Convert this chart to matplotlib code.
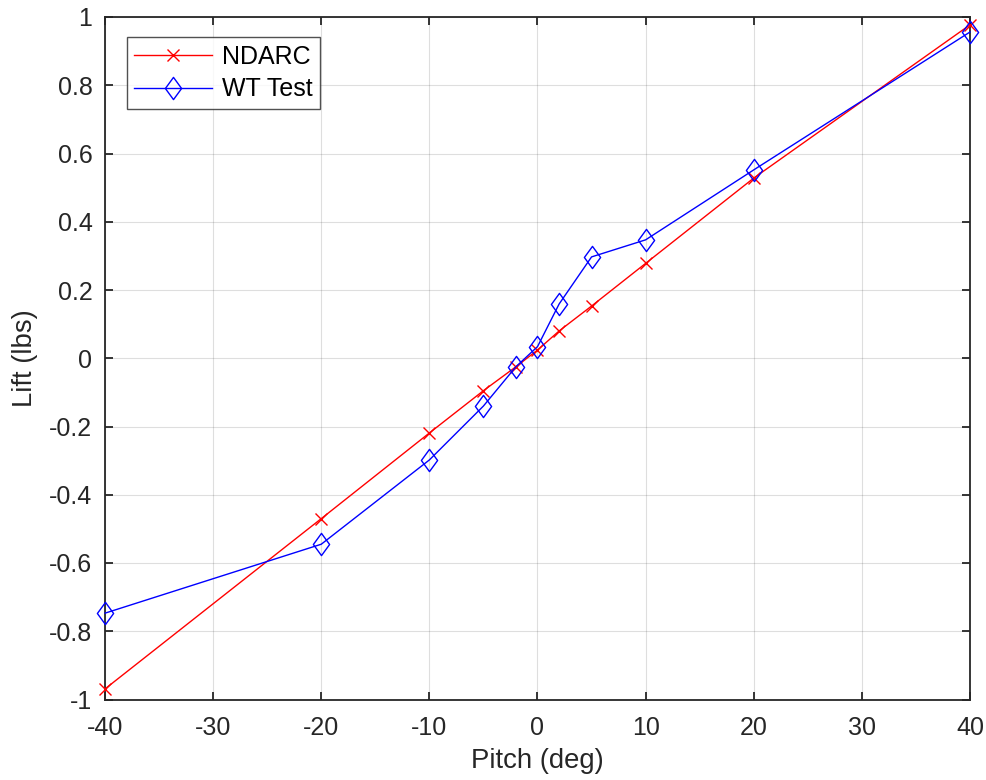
import matplotlib
matplotlib.use("Agg")
import matplotlib.pyplot as plt
from matplotlib.path import Path

pitch = [-40, -20, -10, -5, -2, 0, 2, 5, 10, 20, 40]
ndarc = [-0.969, -0.470, -0.219, -0.095, -0.025, 0.024, 0.080, 0.153, 0.278, 0.528, 0.977]
wt = [-0.747, -0.545, -0.298, -0.140, -0.025, 0.034, 0.159, 0.297, 0.347, 0.552, 0.956]
xticks = [-40, -30, -20, -10, 0, 10, 20, 30, 40]
yticks = [-1, -0.8, -0.6, -0.4, -0.2, 0, 0.2, 0.4, 0.6, 0.8, 1]
ytick_labels = ["-1", "-0.8", "-0.6", "-0.4", "-0.2", "0", "0.2", "0.4", "0.6", "0.8", "1"]

plt.rcParams['font.family'] = ['Liberation Sans', 'DejaVu Sans']

diamond = Path([(0, 1), (0.73, 0), (0, -1), (-0.73, 0), (0, 1)],
               [Path.MOVETO, Path.LINETO, Path.LINETO, Path.LINETO, Path.CLOSEPOLY])

fig = plt.figure(figsize=(9.87, 7.8), dpi=100)
ax = fig.add_axes([105/987, 1-699.5/780, 865/987, 682.5/780])

ax.plot(pitch, ndarc, color='red', lw=1.0, marker='x', ms=8, mew=1.0, label='NDARC', clip_on=False, zorder=3)
ax.plot(pitch, wt, color='blue', lw=1.0, marker=diamond, ms=16, mew=1.0, mfc='none', label='WT Test',
        clip_on=False, zorder=3)

ax.set_xlim(-40, 40)
ax.set_ylim(-1, 1)
ax.set_xticks(xticks)
ax.set_xticklabels([str(t) for t in xticks])
ax.set_yticks(yticks)
ax.set_yticklabels(ytick_labels)
ax.grid(True, color='#262626', alpha=0.15, lw=0.8)
ax.set_axisbelow(True)
for s in ax.spines.values():
    s.set_color('#262626')
    s.set_linewidth(1.3)
ax.tick_params(direction='in', length=6, width=1.3, colors='#262626', labelsize=18, top=True, right=True)
ax.tick_params(axis='x', pad=12)
ax.tick_params(axis='y', pad=9)
for lbl in ax.get_xticklabels() + ax.get_yticklabels():
    lbl.set_color('#262626')
ax.set_xlabel('Pitch (deg)', fontsize=19.8, color='#262626', labelpad=6)
ax.set_ylabel('Lift (lbs)', fontsize=19.8, color='#262626', labelpad=8)

leg = ax.legend(loc='upper left', bbox_to_anchor=(22/865, 1-20/682.5), fontsize=18, frameon=True, fancybox=False,
                edgecolor='#262626', handlelength=3.1, borderpad=0.3, labelspacing=0.35, handletextpad=0.4,
                borderaxespad=0)
leg.get_frame().set_linewidth(1.0)

fig.savefig('out.png', dpi=100)
